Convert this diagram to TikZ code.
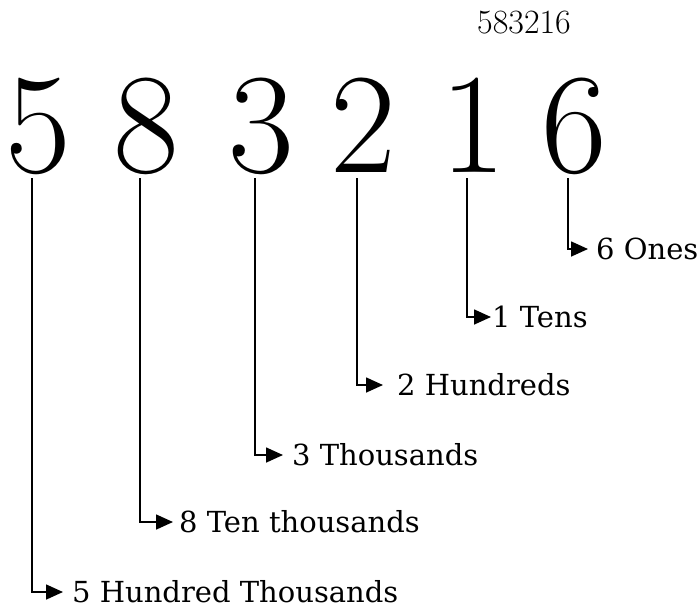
\documentclass[tikz,border=0pt]{standalone}
\usepackage{fontspec}
\newfontfamily\labelfont{DejaVu Serif}
\usetikzlibrary{arrows.meta, positioning, calc}

\begin{document}
\begin{tikzpicture}[x=1pt, y=-1pt,
    digit/.style={font=\fontsize{143}{143}\selectfont, anchor=base,
                  inner sep=0pt, outer sep=0pt, minimum height=0pt,
                  text depth=0pt},
    place/.style={font=\labelfont\fontsize{29}{29}\selectfont, anchor=west,
                  inner xsep=0pt, inner ysep=1pt},
    arr/.style={-{Triangle[length=17pt, width=15pt]}, line width=1.6pt}
  ]
    \useasboundingbox (0,0) rectangle (700,611);

    % Number
    \node[font=\fontsize{34}{34}\selectfont, anchor=base] (num) at (524, 33)
      {583216};

    % Digits
    \node[digit] (d5) at (38, 172) {5};
    \node[digit] (d8) at (146, 172) {8};
    \node[digit] (d3) at (261, 172) {3};
    \node[digit] (d2) at (363, 172) {2};
    \node[digit] (d1) at (473, 172) {1};
    \node[digit] (d6) at (574, 172) {6};

    % Place values
    \node[place] (ones) at (596, 249) {6 Ones};
    \node[place] (tens) at (492, 317) {1 Tens};
    \node[place] (hund) at (397, 385) {2 Hundreds};
    \node[place] (thou) at (292, 455) {3 Thousands};
    \node[place] (tthou) at (179, 522) {8 Ten thousands};
    \node[place] (hthou) at (72, 592) {5 Hundred Thousands};

    \draw[arr, shorten >=8pt] ($(d6.south)+(-6,6)$) |- (ones.west);
    \draw[arr, shorten >=1pt] ($(d1.south)+(-6,6)$) |- (tens.west);
    \draw[arr, shorten >=14pt] ($(d2.south)+(-6,6)$) |- (hund.west);
    \draw[arr, shorten >=9pt] ($(d3.south)+(-6,6)$) |- (thou.west);
    \draw[arr, shorten >=6pt] ($(d8.south)+(-6,6)$) |- (tthou.west);
    \draw[arr, shorten >=9pt] ($(d5.south)+(-6,6)$) |- (hthou.west);
  \end{tikzpicture}
\end{document}
